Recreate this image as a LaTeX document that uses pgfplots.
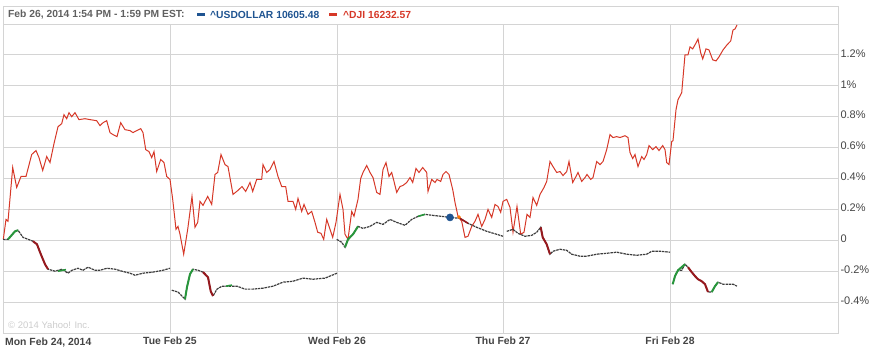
\documentclass[border=0pt]{standalone}
\usepackage{pgfplots}
\pgfplotsset{compat=1.18}
\usepackage{fontspec}
\setmainfont{Liberation Sans}
\definecolor{djired}{RGB}{214,56,40}
\definecolor{usdblue}{RGB}{31,84,145}
\definecolor{gridgray}{RGB}{212,212,212}
\definecolor{txtgray}{RGB}{68,68,68}
\definecolor{cgreen}{RGB}{40,150,60}
\definecolor{cred}{RGB}{150,25,30}
\definecolor{cdark}{RGB}{60,60,60}
\begin{document}
\begin{tikzpicture}
\useasboundingbox (0,0) rectangle (881pt,352pt);
\begin{axis}[
  at={(3pt,19pt)}, anchor=south west,
  scale only axis, width=835pt, height=309pt,
  xmin=3, xmax=838, ymin=-0.6, ymax=1.4,
  axis line style={draw=gridgray, line width=0.8pt},
  grid style={draw=gridgray, line width=0.8pt},
  xmajorgrids, ymajorgrids,
  major tick length=0pt,
  xtick={170,337,503,670},
  xticklabels={Tue Feb 25,Wed Feb 26,Thu Feb 27,Fri Feb 28},
  xticklabel style={font=\fontsize{10.4}{12}\selectfont\bfseries, text=txtgray, yshift=-0.5pt},
  ytick={-0.4,-0.2,0,0.2,0.4,0.6,0.8,1.0,1.2},
  yticklabels={-0.4\%,-0.2\%,0,0.2\%,0.4\%,0.6\%,0.8\%,1\%,1.2\%},
  yticklabel pos=right,
  yticklabel style={font=\fontsize{11}{13}\selectfont, text=txtgray, anchor=west, yshift=1.5pt, xshift=-1pt},
  clip=false,
]
\coordinate (tl) at (rel axis cs:0,1);
\coordinate (tr) at (rel axis cs:1,1);
% DJI
\addplot[djired, line width=1pt] coordinates {
(3.3,0.006)(6,0.135)(8,0.123)(12.7,0.471)(16.7,0.342)(21,0.413)(26,0.413)(31.7,0.555)(36,0.581)(39,0.535)
(42.7,0.452)(46.7,0.542)(50,0.503)(54,0.626)(58,0.735)(61.7,0.755)(64,0.813)(66.7,0.787)(69,0.826)(71.7,0.800)
(75,0.826)(79,0.781)(85,0.787)(90,0.781)(96.7,0.774)(100,0.742)(103,0.761)(106.7,0.774)(110,0.697)(113,0.684)
(117,0.671)(120.7,0.761)(125,0.716)(130,0.710)(133,0.697)(136.7,0.710)(140.7,0.723)(143,0.697)(145.7,0.587)(149,0.574)
(151.7,0.535)(154,0.574)(156.7,0.445)(160.7,0.523)(164,0.503)(166.7,0.413)(170,0.394)(172.7,0.265)(176,0.071)(178,0.090)
(180,0.039)(183.7,-0.090)(187.7,0.071)(192,0.284)(195,0.084)(197.7,0.116)(200,0.252)(203,0.226)(207.7,0.284)(211.7,0.232)
(215,0.426)(217.7,0.439)(221,0.555)(225,0.490)(228,0.477)(233,0.297)(238,0.323)(242,0.348)(245.7,0.316)(250,0.374)
(252.7,0.316)(256.7,0.394)(261.7,0.394)(263,0.490)(266.7,0.439)(270,0.458)(274,0.510)(278,0.413)(281.7,0.348)(285.7,0.348)
(288,0.252)(293,0.252)(295.7,0.200)(298,0.271)(301.7,0.187)(304,0.232)(308,0.168)(311.7,0.187)(315,0.116)(317.7,0.052)
(321,0.045)(323.7,0.006)(326.7,0.135)(330,0.071)(332.7,0.019)(336,0.116)(340,0.297)(343,0.200)(345,0.039)(348,0.006)
(351.7,0.187)(354,0.155)(358,0.265)(360.7,0.400)(363,0.439)(366.7,0.484)(370,0.439)(373,0.406)(376.7,0.310)(380,0.297)
(383,0.458)(386,0.503)(389,0.413)(391.7,0.439)(394,0.381)(396.7,0.310)(400,0.348)(403,0.355)(406.7,0.374)(410,0.406)
(412.7,0.374)(416,0.465)(419,0.439)(422.7,0.471)(426.7,0.439)(428,0.316)(431.7,0.394)(435,0.374)(437,0.394)(440.7,0.381)
(443,0.426)(446,0.445)(449,0.426)(452.7,0.329)(455,0.245)(458,0.155)(461.7,0.123)(465,0.019)(468,0.026)(471.7,0.090)
(475,0.123)(478,0.168)(481.7,0.090)(485,0.135)(488,0.200)(491.7,0.148)(495,0.232)(498,0.219)(500.7,0.181)(503,0.252)
(506.7,0.265)(510,0.213)(513,0.052)(517,0.219)(520.7,0.039)(524,0.052)(527,0.168)(530,0.148)(533,0.277)(536.7,0.226)
(540,0.297)(544,0.342)(546.7,0.381)(550,0.510)(553,0.477)(556.7,0.439)(560,0.445)(563,0.419)(566.7,0.445)(569,0.510)
(572.7,0.374)(576,0.413)(578,0.439)(581.7,0.381)(585,0.406)(587,0.426)(590.7,0.394)(593,0.406)(596.7,0.510)(600,0.490)
(603,0.510)(606.7,0.587)(610,0.684)(613,0.665)(616.7,0.671)(620,0.665)(625,0.677)(628,0.665)(630,0.568)(632.7,0.529)
(635,0.555)(638,0.477)(641.7,0.542)(644,0.523)(646.7,0.555)(649,0.613)(652.7,0.587)(656,0.606)(659,0.581)(662.7,0.613)
(665,0.587)(666.7,0.503)(669,0.490)(671.7,0.639)(673,0.645)(676,0.845)(678,0.910)(681.7,0.955)(685,1.200)(688,1.200)
(690,1.252)(692.7,1.239)(696,1.277)(698,1.303)(700.7,1.213)(702.7,1.174)(706,1.239)(709,1.232)(712.7,1.168)(716,1.161)
(719,1.187)(723,1.232)(727,1.265)(730.7,1.290)(733,1.361)(735,1.368)(737,1.394)
};
% USDOLLAR base (per day)
\pgfplotsset{usdbase/.style={cdark, line width=1.2pt, dash pattern=on 2.5pt off 0.8pt}}
\addplot[usdbase] coordinates {
(3,0.006)(8,0.006)(15,0.058)(18,0.065)(23,0.019)(33,-0.006)(37,-0.026)(40,-0.077)(45,-0.155)(48,-0.187)
(55,-0.200)(62,-0.187)(68,-0.213)(72,-0.194)(78,-0.181)(83,-0.194)(88,-0.174)(95,-0.194)(100,-0.194)(107,-0.181)
(115,-0.187)(122,-0.200)(130,-0.213)(135,-0.226)(143,-0.213)(153,-0.206)(163,-0.194)(170,-0.181)
};
\addplot[usdbase] coordinates {
(171.7,-0.323)(178,-0.335)(185,-0.381)(187,-0.303)(190,-0.219)(193,-0.187)(198,-0.194)(203,-0.206)(208,-0.239)(210.7,-0.329)
(213,-0.361)(217,-0.316)(222,-0.297)(230,-0.297)(237,-0.297)(245,-0.316)(253,-0.316)(263,-0.310)(273,-0.297)(283,-0.271)
(293,-0.265)(303,-0.245)(313,-0.252)(325,-0.245)(337,-0.213)
};
\addplot[usdbase] coordinates {
(336.7,0.006)(341.7,-0.013)(345,-0.045)(348,0.006)(353,0.039)(358,0.090)(363,0.077)(370,0.090)(376.7,0.116)(383,0.103)
(390,0.135)(396.7,0.116)(405,0.097)(411.7,0.135)(418,0.155)(425,0.168)(433,0.161)(441.7,0.155)(450,0.148)(460,0.142)
(468,0.110)(476.7,0.084)(486.7,0.058)(496.7,0.039)(503,0.026)
};
\addplot[usdbase] coordinates {
(506.7,0.058)(513,0.071)(518,0.045)(525,0.026)(531.7,0.032)(536.7,0.052)(540.7,0.084)(542.7,0.019)(546.7,-0.026)(550,-0.090)
(553,-0.071)(560,-0.058)(566.7,-0.065)(571.7,-0.090)(580,-0.103)(586.7,-0.103)(596.7,-0.090)(606.7,-0.084)(616.7,-0.077)(626.7,-0.090)
(636.7,-0.097)(646.7,-0.090)(651.7,-0.071)(660,-0.071)(670,-0.077)
};
\addplot[usdbase] coordinates {
(672.7,-0.284)(675,-0.232)(678,-0.194)(681.7,-0.194)(685,-0.155)(688,-0.174)(691.7,-0.206)(695,-0.232)(698,-0.252)(701.7,-0.265)
(705,-0.284)(708,-0.335)(711.7,-0.335)(715,-0.297)(718,-0.271)(723,-0.284)(728,-0.284)(733,-0.284)(737,-0.297)
};
% up candles
\addplot[cgreen, line width=2pt] coordinates {(8,0.006)(15,0.058)(18,0.065)};
\addplot[cgreen, line width=2pt] coordinates {(185,-0.381)(187,-0.303)(190,-0.219)(193,-0.187)};
\addplot[cgreen, line width=2pt] coordinates {(345,-0.045)(348,0.006)(353,0.039)(358,0.090)};
\addplot[cgreen, line width=1.6pt] coordinates {(418,0.155)(425,0.168)};
\addplot[cgreen, line width=2pt] coordinates {(672.7,-0.284)(675,-0.232)(678,-0.194)(685,-0.155)};
\addplot[cgreen, line width=2pt] coordinates {(711.7,-0.335)(715,-0.297)(718,-0.271)};
\addplot[cgreen, line width=1.6pt] coordinates {(226,-0.297)(232,-0.290)};
\addplot[cgreen, line width=1.6pt] coordinates {(58,-0.200)(66,-0.190)};
% down candles
\addplot[cred, line width=2pt] coordinates {(33,-0.006)(37,-0.026)(40,-0.077)(45,-0.155)(48,-0.187)};
\addplot[cred, line width=2pt] coordinates {(203,-0.206)(208,-0.239)(210.7,-0.329)(213,-0.361)};
\addplot[cred, line width=2pt] coordinates {(540.7,0.084)(542.7,0.019)(546.7,-0.026)(550,-0.090)};
\addplot[cred, line width=2pt] coordinates {(688,-0.174)(691.7,-0.206)(695,-0.232)(698,-0.252)(701.7,-0.265)(705,-0.284)(708,-0.335)};
\addplot[cred, line width=1.6pt] coordinates {(460,0.142)(468,0.110)};
% hover markers
\addplot[only marks, mark=*, mark size=3.6pt, draw=usdblue, fill=usdblue] coordinates {(450,0.148)};
\addplot[only marks, mark=*, mark size=1.6pt, draw=orange!90!red, fill=orange!90!red] coordinates {(459,0.150)};
\node[anchor=north west, font=\fontsize{10.4}{12}\selectfont\bfseries, text=txtgray, inner sep=0pt] at ([xshift=2pt,yshift=-5pt]rel axis cs:0,0) {Mon Feb 24, 2014};
\end{axis}
\draw[gridgray, line width=0.8pt] (tl) -- ++(0,18pt) -| (tr);
\node[anchor=west, inner sep=0pt, font=\fontsize{10.3}{12}\selectfont\bfseries, text=txtgray!85] at (8pt,337pt) {Feb 26, 2014 1:54 PM - 1:59 PM EST:};
\fill[usdblue] (197pt,335.5pt) rectangle (205pt,339pt);
\node[anchor=west, inner sep=0pt, font=\fontsize{10.3}{12}\selectfont\bfseries, text=usdblue] at (210pt,337pt) {\textasciicircum USDOLLAR 10605.48};
\fill[djired] (329pt,335.5pt) rectangle (337pt,339pt);
\node[anchor=west, inner sep=0pt, font=\fontsize{10.3}{12}\selectfont\bfseries, text=djired] at (343pt,337pt) {\textasciicircum DJI 16232.57};
\node[anchor=west, inner sep=0pt, font=\fontsize{9.5}{11}\selectfont, text=black!20] at (8pt,27pt) {© 2014 Yahoo! Inc.};
\end{tikzpicture}
\end{document}
